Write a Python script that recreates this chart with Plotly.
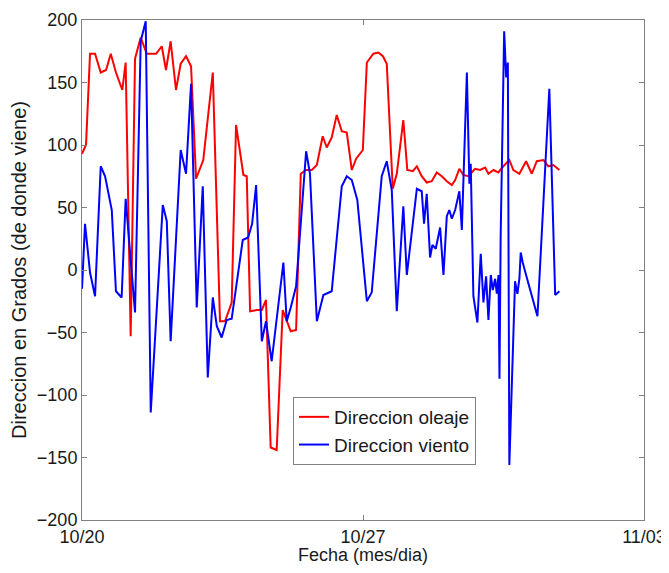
import pandas as pd
import plotly.graph_objects as go

# Time offsets in hours from 10/20 00:00
oleaje_horas = [0, 2.4, 4.8, 7.8, 11.2, 14.4, 17.2, 20.3, 24.1, 26.1, 29.1, 31.7, 35.1, 38.7, 44.3,
                47.7, 50.2, 53.0, 56.2, 59.0, 62.2, 65.2, 68.2, 72.5, 78.2, 82.5, 85.5, 89.5, 92.1,
                96.5, 98.5, 100.5, 104.5, 107.5, 110.0, 112.8, 116.4, 120.0, 124.8, 128.0, 130.8,
                134.0, 137.4, 140.4, 143.9, 146.3, 149.3, 152.3, 155.3, 158.3, 161.3, 163.9, 167.9,
                170.3, 174.2, 177.2, 179.9, 182.2, 185.8, 188.2, 192.1, 194.5, 197.8, 200.2, 203.1,
                206.1, 209.1, 212.1, 215.1, 218.1, 221.1, 223.1, 225.6, 228.0, 231.0, 235.0, 238.0,
                241.0, 243.0, 246.0, 248.9, 251.9, 255.5, 257.9, 261.5, 265.5, 268.9, 271.9, 275.9,
                278.8, 281.8, 285.4]
oleaje_grados = [93, 100, 173, 173, 158, 160, 173, 158, 144, 166, -53, 169, 186, 173, 173,
                 179, 160, 183, 144, 165, 171, 163, 73, 88, 158, -41, -41, -26, 116,
                 76, 75, -33, -32, -32, -24, -142, -144, -32, -49, -48, 77,
                 80, 80, 84, 107, 98, 106, 124, 111, 110, 80, 89, 96,
                 166, 173, 174, 171, 165, 65, 77, 120, 80, 79, 83, 75,
                 70, 71, 78, 75, 71, 68, 72, 81, 76, 75, 81, 80,
                 82, 77, 80, 78, 83, 88, 80, 77, 87, 77, 87, 88,
                 83, 84, 80]

viento_horas = [0, 1.8, 4.8, 7.8, 11.2, 13.8, 17.8, 20.3, 23.7, 26.1, 31.7, 35.1, 38.1, 41.1, 48.3,
                50.7, 53.0, 59.0, 62.2, 65.2, 68.6, 72.2, 75.2, 78.2, 80.6, 83.5, 86.5, 89.5, 96.1,
                99.3, 101.7, 104.1, 107.5, 110.0, 113.4, 120.4, 122.4, 124.8, 128.0, 134.0, 136.3,
                140.4, 144.3, 147.3, 149.3, 155.3, 158.3, 161.3, 164.6, 170.3, 173.2, 179.2, 182.2,
                185.2, 188.2, 192.1, 194.2, 200.2, 203.1, 204.5, 206.1, 208.1, 209.5, 211.5, 214.1,
                216.1, 218.1, 219.6, 221.1, 223.1, 225.6, 227.1, 228.0, 230.1, 231.6, 232.4, 234.0,
                236.4, 238.4, 240.0, 241.6, 243.0, 244.4, 245.6, 247.0, 248.0, 249.0, 249.6, 250.3,
                252.4, 253.6, 254.6, 255.5, 258.9, 260.3, 261.5, 262.3, 263.5, 265.5, 268.9, 272.3,
                279.4, 282.9, 285.4]
viento_grados = [-15, 37, -2, -21, 83, 75, 48, -17, -22, 57, -34, 183, 199, -114, 52,
                 39, -57, 96, 77, 149, -30, 67, -86, -22, -45, -54, -40, -39, 24,
                 26, 37, 68, -57, -41, -73, 6, -41, -30, -13, 95, 77,
                 -41, -20, -18, -17, 67, 75, 72, 56, -25, -18, 75, 87,
                 64, -33, 51, -4, 65, 63, 37, 61, 10, 20, 17, 34,
                 -4, 43, 48, 41, 48, 63, 32, 67, 158, 69, 85, -21,
                 -42, 13, -26, -5, -40, -4, -16, -7, -19, -4, -87, 27,
                 191, 154, 166, -156, -9, -19, -7, 14, 6, -4, -21, -37,
                 145, -20, -17]

x_ticks = ["2008-10-20", "2008-10-27", "2008-11-03"]
x_tick_labels = ["10/20", "10/27", "11/03"]
y_ticks = [-200, -150, -100, -50, 0, 50, 100, 150, 200]

base = pd.Timestamp("2008-10-20")
x_ole = [base + pd.Timedelta(hours=h) for h in oleaje_horas]
x_vie = [base + pd.Timedelta(hours=h) for h in viento_horas]

FONT = "Liberation Sans, Arial, Helvetica, sans-serif"

fig = go.Figure()
fig.add_trace(go.Scatter(x=x_ole, y=oleaje_grados, mode="lines", name="Direccion oleaje",
                         line=dict(color="#ff0000", width=2)))
fig.add_trace(go.Scatter(x=x_vie, y=viento_grados, mode="lines", name="Direccion viento",
                         line=dict(color="#0000ff", width=2)))

# page body adds an 8px offset; figure sized so that the plot area lands at x 82..644, y 20..520
fig.update_layout(
    width=661, height=557,
    margin=dict(l=74, r=25, t=12, b=45),
    paper_bgcolor="white", plot_bgcolor="white",
    font=dict(family=FONT, size=18, color="#1a1a1a"),
    showlegend=True,
    legend=dict(x=0.3754, y=0.246, xanchor="left", yanchor="top",
                bgcolor="white", bordercolor="#808080", borderwidth=1,
                font=dict(size=19), tracegroupgap=0, itemwidth=30),
    xaxis=dict(type="date", range=[x_ticks[0], x_ticks[-1]], automargin=False,
               tickmode="array", tickvals=x_ticks, ticktext=x_tick_labels,
               tickfont=dict(size=18),
               ticks="inside", ticklen=5, tickcolor="#808080",
               showline=True, linecolor="#808080", linewidth=1, mirror="ticks",
               showgrid=False, zeroline=False,
               title=dict(text="Fecha (mes/dia)", font=dict(size=18), standoff=2)),
    yaxis=dict(range=[-200, 200], tickmode="array", tickvals=y_ticks, automargin=False,
               tickfont=dict(size=18),
               ticks="inside", ticklen=5, tickcolor="#808080",
               showline=True, linecolor="#808080", linewidth=1, mirror="ticks",
               showgrid=False, zeroline=False,
               title=dict(text="Direccion en Grados (de donde viene)", font=dict(size=20), standoff=4)),
)

fig.write_html("out.html")
